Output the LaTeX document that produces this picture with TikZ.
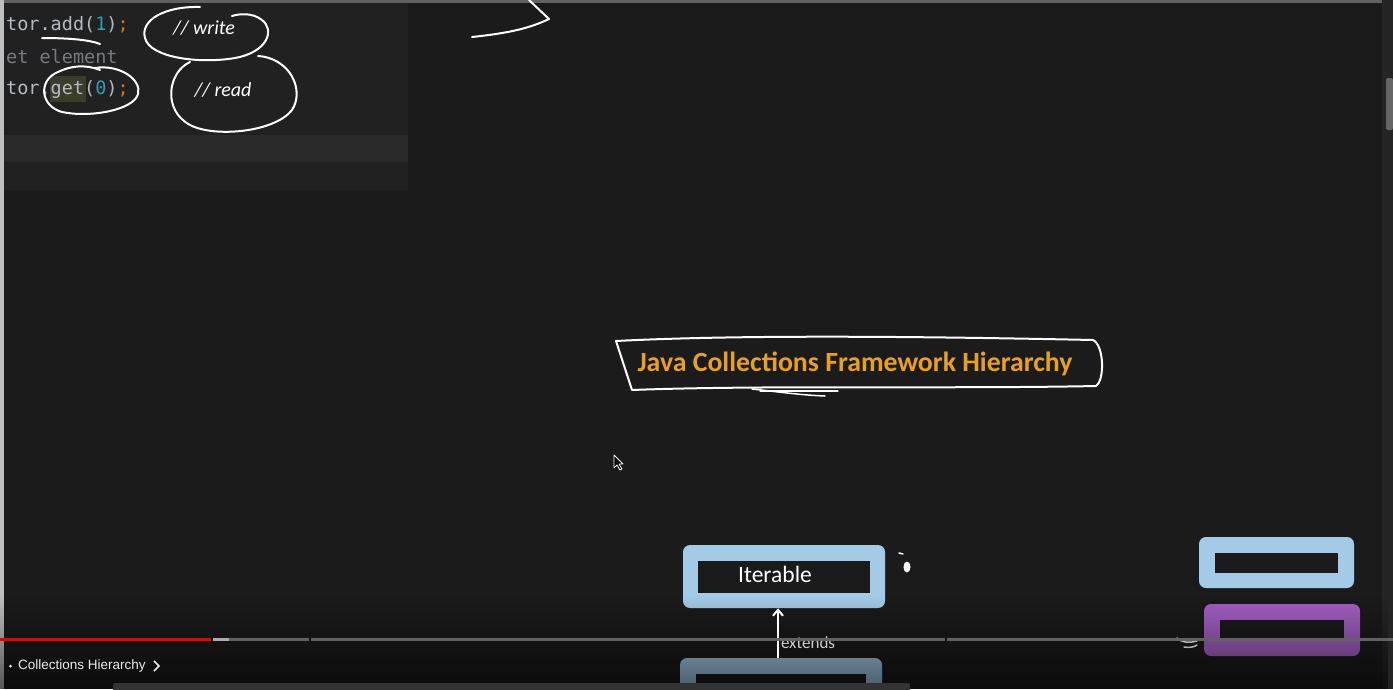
\documentclass[tikz,border=0pt]{standalone}
\usepackage{fontspec}
\setmainfont{Carlito}
\setsansfont{Liberation Sans}
\setmonofont{DejaVu Sans Mono}
\usetikzlibrary{positioning,calc}
\usetikzlibrary{arrows.meta,fadings}
\definecolor{ScreenBg}{RGB}{27,27,27}
\definecolor{EditorBg}{RGB}{33,33,33}
\definecolor{EditorBand}{RGB}{42,42,42}
\definecolor{CodeGray}{RGB}{180,186,196}
\definecolor{CodeNum}{RGB}{42,160,184}
\definecolor{CodeSemi}{RGB}{204,120,50}
\definecolor{CodeComment}{RGB}{118,122,128}
\definecolor{HlOlive}{RGB}{60,60,42}
\definecolor{TitleOrange}{RGB}{232,160,32}
\definecolor{BoxBlue}{RGB}{163,203,232}
\definecolor{BoxPurple}{RGB}{164,96,196}
\definecolor{YtRed}{RGB}{235,0,0}
\tikzset{
  ink/.style={draw=white,line width=2pt,line cap=round,line join=round},
  code/.style={font=\ttfamily\fontsize{18.5}{18.5}\selectfont,text=CodeGray,anchor=west,inner sep=0pt},
  outerbox/.style={fill=#1,rounded corners=7pt,inner sep=0pt},
  innerbox/.style={fill=ScreenBg,inner sep=0pt},
  boxtext/.style={text=white,font=\fontsize{23.5}{23.5}\selectfont,inner sep=0pt},
}
\tikzset{bar/.style={line width=3pt}, hand/.style={text=white,font=\itshape\fontsize{20}{20}\selectfont,inner sep=0pt}}

\begin{document}
\begin{tikzpicture}[x=1pt,y=-1pt]
\useasboundingbox (0,0) rectangle (1393,689);
\clip (0,0) rectangle (1393,689);
\fill[ScreenBg] (0,0) rectangle (1393,689);
% editor panel
\fill[EditorBg] (4,0) rectangle (408,190);
\fill[EditorBand] (4,135) rectangle (408,162);
\fill[black!62] (0,0) rectangle (1393,2.5);
\fill[black!25] (0,0) rectangle (3.5,689);
\fill[black!86] (1382,0) rectangle (1393,689);
\fill[black!60,rounded corners=2pt] (1386,78) rectangle (1393,130);
\fill[HlOlive] (50,76) rectangle (86,102);
\node[code] (line1) at (6,25) {tor.add(\textcolor{CodeNum}{1})\textcolor{CodeSemi}{;}};
\node[code,text=CodeComment] (line2) at (6,57) {et element};
\node[code] (line3) at (6,89) {tor.get(\textcolor{CodeNum}{0})\textcolor{CodeSemi}{;}};
% pen marks
\draw[ink] (42,38) .. controls (70,38) and (90,40) .. (100,44);
\draw[ink] (95,68) .. controls (120,64) and (142,80) .. (138,94) .. controls (134,110) and (90,118) .. (62,112) .. controls (40,106) and (38,80) .. (58,72) .. controls (70,66) and (85,64) .. (100,70);
\draw[ink] (200,7) .. controls (165,6) and (140,20) .. (145,38) .. controls (150,58) and (200,64) .. (235,58) .. controls (268,52) and (275,30) .. (262,20) .. controls (252,12) and (238,14) .. (232,16);
\node[hand] (wnote) at (204,28) {// write};
\draw[ink] (190,62) .. controls (168,72) and (162,110) .. (190,125) .. controls (215,138) and (275,132) .. (292,110) .. controls (305,90) and (290,58) .. (258,56);
\node[hand] (rnote) at (223,90) {// read};
\draw[ink] (472,37) .. controls (510,33) and (530,28) .. (549,19) -- (529,0);
% title
\node[font=\bfseries\fontsize{27.8}{27.8}\selectfont,text=TitleOrange] (title) at (855,364) {Java Collections Framework Hierarchy};
\draw[ink] (632,390) -- (616,341) .. controls (750,334) and (950,337) .. (1093,340) .. controls (1104,345) and (1105,380) .. (1096,386) .. controls (950,389) and (760,385) .. (632,390);
\draw[ink,line width=1.5pt] (752,389) .. controls (780,392) and (800,395) .. (825,396);
\draw[ink,line width=1.2pt] (760,391) -- (838,391);
% cursor
\draw[white,fill=black,line width=0.8pt,line join=round] (614,455) -- (614,468) -- (617,465) -- (620,470) -- (622,469) -- (619,464) -- (623,464) -- cycle;
% boxes
\node[outerbox=BoxBlue,minimum width=202pt,minimum height=63pt] (iterOut) at (784,576.5) {};
\node[innerbox,minimum width=172pt,minimum height=32pt] (iter) at (iterOut.center) {};
\node[boxtext] (iterLabel) at ($(iter.center)+(-9,-2)$) {Iterable};
\node[outerbox=BoxBlue,minimum width=202pt,minimum height=63pt] (collOut) at (781,689.5) {};
\node[innerbox,minimum width=170pt,minimum height=32pt] (coll) at (collOut.center) {};
\node[outerbox=BoxBlue,minimum width=155pt,minimum height=51pt] (keyA) at (1276.5,562.5) {};
\node[innerbox,minimum width=123pt,minimum height=20pt] (keyAin) at (keyA.center) {};
\node[outerbox=BoxPurple,minimum width=156pt,minimum height=52pt] (keyB) at (1282,630) {};
\node[innerbox,minimum width=124pt,minimum height=20pt] (keyBin) at (keyB.center) {};
\fill[white] (907,567) ellipse (3.5 and 5.5);
\draw[ink,line width=1.5pt] (899,553) -- (903,554);
\draw[ink,line width=1.5pt] (1177,638) .. controls (1182,643) and (1190,643) .. (1197,641);
\draw[ink,line width=1.5pt] (1184,647) .. controls (1190,648) and (1194,647) .. (1197,645);
% video overlay
\fill[black,opacity=0.55,path fading=north] (0,595) rectangle (1393,689);
\draw[-{Straight Barb[length=6pt,width=10pt]},white,line width=2pt] (collOut.north -| 778,0) -- (iterOut.south -| 778,0) node[pos=0.3,right=0pt,text=black!18,font=\fontsize{17}{17}\selectfont,inner sep=2pt] (ext) {extends};
\draw[bar,YtRed] (0,639) -- (211,639);
\draw[bar,black!33] (213,639) -- (229,639);
\draw[bar,black!62] (229,639) -- (309,639) (311,639) -- (945,639) (947,639) -- (1393,639);
\fill[black!8] (10.5,666) circle (1.5);
\node[anchor=west,text=black!8,font=\sffamily\fontsize{13.5}{13.5}\selectfont,inner sep=0pt] (chapter) at (18,666) {Collections Hierarchy};
\draw[black!8,line width=1.6pt] ($(chapter.east)+(8,-5)$) -- ++(5,5) -- ++(-5,5);
\fill[black!80,rounded corners=2pt] (113,683) rectangle (910,692);
\end{tikzpicture}
\end{document}
